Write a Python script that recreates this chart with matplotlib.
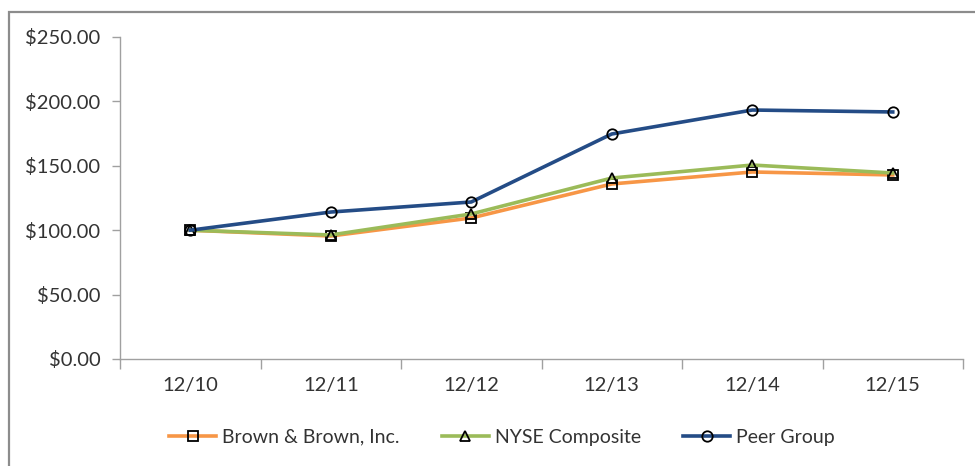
import matplotlib
matplotlib.use("Agg")
import matplotlib.pyplot as plt
from matplotlib.patches import Rectangle
from matplotlib.ticker import FuncFormatter, FixedLocator

categories = ["12/10", "12/11", "12/12", "12/13", "12/14", "12/15"]
brown = [100.0, 95.5, 109.5, 135.9, 145.2, 142.9]
nyse = [100.0, 96.3, 112.6, 140.5, 150.6, 144.4]
peer = [100.0, 114.1, 121.9, 174.7, 193.3, 191.8]
yticks = [0, 50, 100, 150, 200, 250]

plt.rcParams['font.family'] = ['Lato', 'DejaVu Sans']

W, H = 975, 466
fig = plt.figure(figsize=(W / 100, H / 100), dpi=100)
ax = fig.add_axes([120 / W, 1 - 359 / H, (963 - 120) / W, (359 - 37) / H])

x = list(range(len(categories)))
ax.plot(x, brown, color="#F79646", lw=2.6, marker="s", ms=7, mfc="none", mec="black", mew=1.3,
        label="Brown & Brown, Inc.", zorder=3)
ax.plot(x, nyse, color="#9BBB59", lw=2.6, marker="^", ms=7.5, mfc="none", mec="black", mew=1.3,
        label="NYSE Composite", zorder=4)
ax.plot(x, peer, color="#244C86", lw=2.6, marker="o", ms=7.5, mfc="none", mec="black", mew=1.3,
        label="Peer Group", zorder=5)

ax.set_xlim(-0.5, len(categories) - 0.5)
ax.set_ylim(0, 250)
ax.set_yticks(yticks)
ax.yaxis.set_major_formatter(FuncFormatter(lambda v, p: f"${v:,.2f}"))
ax.set_xticks(x)
ax.set_xticklabels(categories)
ax.xaxis.set_minor_locator(FixedLocator([i - 0.5 for i in range(len(categories) + 1)]))
ax.tick_params(axis='x', which='major', length=0, pad=13, labelsize=14.5, labelcolor="#333333")
ax.tick_params(axis='x', which='minor', length=7, color="#a0a0a0", width=1)
ax.tick_params(axis='y', length=6, color="#a0a0a0", width=1, labelsize=14.5, labelcolor="#333333", pad=8)

for s in ["top", "right"]:
    ax.spines[s].set_visible(False)
for s in ["left", "bottom"]:
    ax.spines[s].set_color("#a0a0a0")
    ax.spines[s].set_linewidth(1)

leg = fig.legend(loc="center", bbox_to_anchor=(502 / W, 1 - 437 / H), ncol=3, frameon=False,
                 fontsize=14, handlelength=2.4, columnspacing=2.2, handletextpad=0.3)
for t in leg.get_texts():
    t.set_color("#333333")

fig.patches.append(Rectangle((9 / W, -0.1), 1.1, 1 - 12 / H + 0.1, transform=fig.transFigure,
                             fill=False, edgecolor="#8c8c8c", lw=1.6))

fig.savefig("out.png", dpi=100)
